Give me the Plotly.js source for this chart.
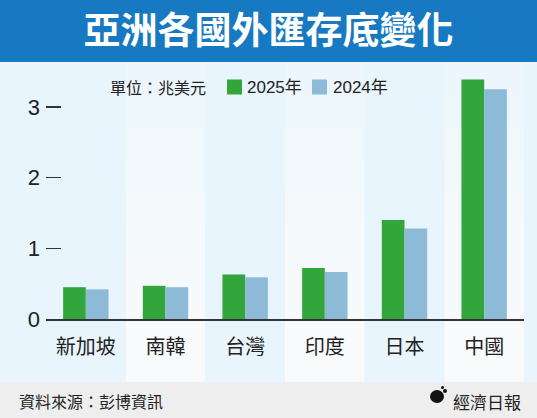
<!DOCTYPE html>
<html>
<head>
<meta charset="utf-8">
<script src="https://cdn.plot.ly/plotly-3.0.1.min.js"></script>
<style>html,body{margin:0;padding:0;background:#e9f5fc;}#chart{width:537px;height:418px;}</style>
</head>
<body>
<div id="chart"></div>
<script>
// ---- data ----
const categories = ["新加坡", "南韓", "台灣", "印度", "日本", "中國"];
const values2025 = [0.45, 0.47, 0.63, 0.72, 1.40, 3.39];
const values2024 = [0.42, 0.45, 0.59, 0.665, 1.28, 3.25];
const seriesNames = ["2025年", "2024年"];
const yTickVals = [0, 1, 2, 3];
const yTickText = ["0", "1", "2", "3"];
const titleText = "亞洲各國外匯存底變化";
const unitText = "單位：兆美元";
const sourceText = "資料來源：彭博資訊";
const brandText = "經濟日報";

// ---- layout helpers ----
const W = 537, H = 418, L = 46, R = 13, T = 75, B = 99;
const pw = W - L - R, ph = H - T - B;
const xp = px => (px - L) / pw;
const yp = py => (H - B - py) / ph;

const CJK = '"Noto Sans CJK TC", "Noto Sans CJK SC", sans-serif';
const LAT = '"Liberation Sans", Arial, "Noto Sans CJK TC", sans-serif';

const colors = ["#33a63b", "#8dbbd7"];

const traces = [
  {type: "bar", name: seriesNames[0], x: categories, y: values2025,
   marker: {color: colors[0]}, hoverinfo: "skip", showlegend: false},
  {type: "bar", name: seriesNames[1], x: categories, y: values2024,
   marker: {color: colors[1]}, hoverinfo: "skip", showlegend: false}
];

const shapes = [];
// header band
shapes.push({type: "rect", xref: "paper", yref: "paper", layer: "below",
  x0: xp(0), x1: xp(W), y0: yp(62), y1: yp(0), fillcolor: "#1679c2", line: {width: 0}});
// white gradient stripes for alternate categories
const n = categories.length;
for (let i = 1; i < n; i += 2) {
  const steps = 10;
  for (let k = 0; k < steps; k++) {
    const top = 62 + (382 - 62) * k / steps;
    shapes.push({type: "rect", xref: "paper", yref: "paper", layer: "below",
      x0: i / n, x1: (i + 1) / n, y0: yp(382), y1: yp(top),
      fillcolor: "rgba(255,255,255,0.15)", line: {width: 0}});
  }
}
// footer band
shapes.push({type: "rect", xref: "paper", yref: "paper", layer: "below",
  x0: xp(0), x1: xp(W), y0: yp(H), y1: yp(382), fillcolor: "#eeeeee", line: {width: 0}});
// logo blob
shapes.push({type: "circle", xref: "paper", yref: "paper", layer: "above",
  x0: xp(430), x1: xp(444), y0: yp(403), y1: yp(390), fillcolor: "#111", line: {width: 0}});
shapes.push({type: "circle", xref: "paper", yref: "paper", layer: "above",
  x0: xp(443), x1: xp(447), y0: yp(393), y1: yp(389), fillcolor: "#111", line: {width: 0}});
shapes.push({type: "circle", xref: "paper", yref: "paper", layer: "above",
  x0: xp(441), x1: xp(444), y0: yp(389), y1: yp(386), fillcolor: "#111", line: {width: 0}});

// legend (drawn manually to match the reference spacing)
const legendSquareX = [227, 312];
const legendTextX = [245, 331];
for (let s = 0; s < seriesNames.length; s++) {
  shapes.push({type: "rect", xref: "paper", yref: "paper", layer: "above",
    x0: xp(legendSquareX[s]), x1: xp(legendSquareX[s] + 15), y0: yp(94.5), y1: yp(79.5),
    fillcolor: colors[s], line: {width: 0}});
}

const annotations = [
  {text: unitText, xref: "paper", yref: "paper", x: xp(108), y: yp(87),
   xanchor: "left", yanchor: "middle", showarrow: false,
   font: {family: CJK, size: 16, color: "#222"}},
  {text: sourceText, xref: "paper", yref: "paper", x: xp(17), y: yp(401),
   xanchor: "left", yanchor: "middle", showarrow: false,
   font: {family: CJK, size: 16, color: "#222"}},
  {text: brandText, xref: "paper", yref: "paper", x: xp(451), y: yp(401),
   xanchor: "left", yanchor: "middle", showarrow: false,
   font: {family: CJK, size: 17, color: "#222"}}
];
for (let s = 0; s < seriesNames.length; s++) {
  annotations.push({text: seriesNames[s], xref: "paper", yref: "paper",
    x: xp(legendTextX[s]), y: yp(87), xanchor: "left", yanchor: "middle", showarrow: false,
    font: {family: LAT, size: 17, color: "#222"}});
}

const layout = {
  width: W, height: H,
  margin: {l: L, r: R, t: T, b: B, pad: 0},
  paper_bgcolor: "#e9f5fc",
  plot_bgcolor: "rgba(0,0,0,0)",
  title: {text: titleText, xref: "container", yref: "container",
    x: 0.5, xanchor: "center", y: 1 - 31 / H, yanchor: "middle",
    font: {family: CJK, size: 37, color: "#ffffff", weight: "bold"}},
  barmode: "group", bargap: 0.43, bargroupgap: 0,
  showlegend: false,
  xaxis: {type: "category", range: [-0.5, n - 0.5], showline: true, linecolor: "#333",
    linewidth: 1.5, ticks: "", showgrid: false, zeroline: false, fixedrange: true,
    tickfont: {family: CJK, size: 20, color: "#222"}, ticklabelstandoff: 9},
  yaxis: {range: [0, (319 - T) / 70.67], tickvals: yTickVals, ticktext: yTickText,
    ticks: "inside", ticklen: 15, tickwidth: 1.5, tickcolor: "#333",
    showgrid: false, zeroline: false, showline: false, fixedrange: true,
    tickfont: {family: LAT, size: 22, color: "#222"}, ticklabelstandoff: 5},
  shapes: shapes,
  annotations: annotations
};

Plotly.newPlot("chart", traces, layout, {displayModeBar: false, staticPlot: true});
</script>
</body>
</html>
